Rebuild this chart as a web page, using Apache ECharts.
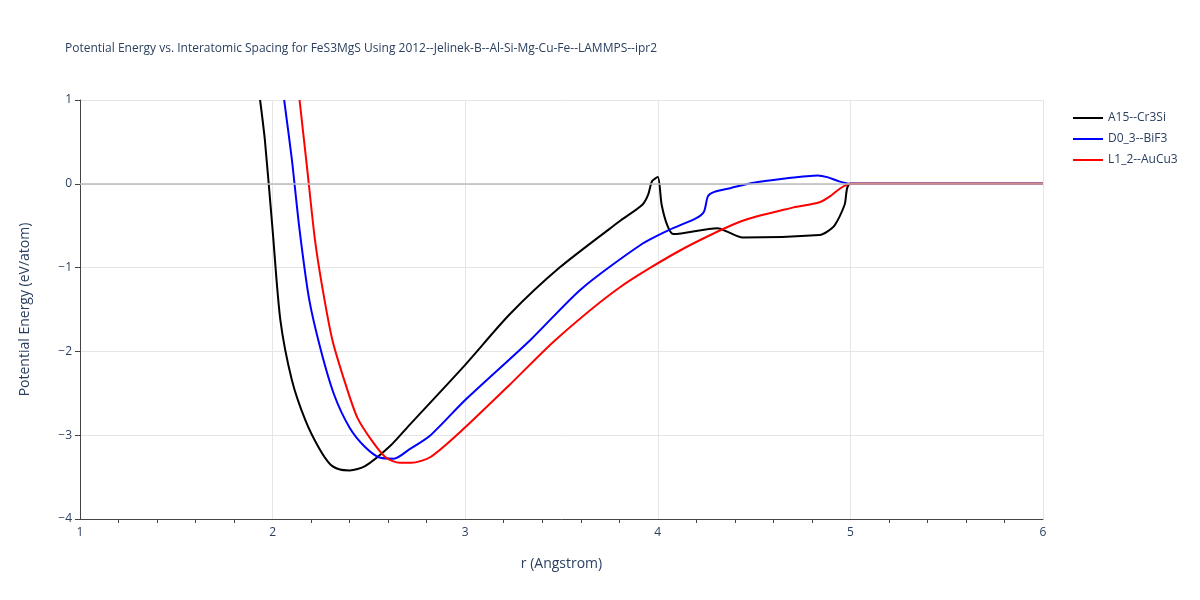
<!DOCTYPE html>
<html>
<head>
<meta charset="utf-8">
<script src="https://cdn.jsdelivr.net/npm/echarts@6/dist/echarts.min.js"></script>
<style>html,body{margin:0;padding:0;background:#fff}#main{width:1200px;height:600px}</style>
</head>
<body>
<div id="main"></div>
<script>
// 各曲线数据 [r, E]
var a15 = [[1.935,1.0],[1.96,0.52],[2.0,-0.55],[2.04,-1.62],[2.10,-2.34],[2.17,-2.82],[2.24,-3.15],[2.30,-3.35],
  [2.35,-3.41],[2.40,-3.42],[2.48,-3.37],[2.61,-3.13],[2.71,-2.88],[3.0,-2.16],[3.23,-1.56],[3.49,-1.0],
  [3.80,-0.45],[3.92,-0.25],[3.95,-0.13],[3.97,0.03],[4.0,0.08],[4.02,-0.25],[4.05,-0.5],[4.08,-0.6],
  [4.31,-0.53],[4.36,-0.57],[4.44,-0.64],[4.84,-0.61],[4.88,-0.57],[4.92,-0.49],[4.97,-0.25],[5.0,0],[6.0,0]];
var d03 = [[2.06,1.0],[2.10,0.29],[2.14,-0.55],[2.19,-1.38],[2.25,-1.98],[2.32,-2.52],[2.40,-2.91],[2.48,-3.14],
  [2.56,-3.27],[2.63,-3.28],[2.71,-3.17],[2.82,-3.0],[3.0,-2.58],[3.34,-1.86],[3.60,-1.26],[3.91,-0.73],
  [4.06,-0.55],[4.20,-0.41],[4.24,-0.33],[4.26,-0.15],[4.29,-0.1],[4.38,-0.05],[4.49,0.01],[4.65,0.06],
  [4.83,0.1],[4.88,0.08],[4.94,0.03],[5.0,0],[6.0,0]];
var l12 = [[2.14,1.0],[2.18,0.17],[2.22,-0.67],[2.26,-1.26],[2.31,-1.86],[2.38,-2.40],[2.44,-2.79],[2.52,-3.08],
  [2.59,-3.27],[2.66,-3.33],[2.72,-3.33],[2.82,-3.26],[2.97,-2.97],[3.23,-2.40],[3.47,-1.86],[3.80,-1.24],
  [4.12,-0.79],[4.43,-0.45],[4.69,-0.29],[4.84,-0.22],[4.90,-0.14],[4.95,-0.05],[5.0,0],[6.0,0]];

var chart = echarts.init(document.getElementById('main'));
var font = 'Open Sans, Noto Sans, sans-serif';
chart.setOption({
  animation: false,
  textStyle: {fontFamily: font},
  title: {text: 'Potential Energy vs. Interatomic Spacing for FeS3MgS Using 2012--Jelinek-B--Al-Si-Mg-Cu-Fe--LAMMPS--ipr2',
    left: 60, top: 38, textStyle: {fontSize: 12, fontWeight: 'normal', color: '#2a3f5f', fontFamily: font}},
  legend: {orient: 'vertical', left: 1068, top: 107, itemWidth: 30, itemHeight: 2, itemGap: 9,
    textStyle: {fontSize: 12, color: '#2a3f5f'}, icon: 'rect'},
  grid: {left: 80, right: 157, top: 100, bottom: 81},
  xAxis: {type: 'value', min: 1, max: 6, interval: 1, name: 'r (Angstrom)', nameLocation: 'middle', nameGap: 38,
    nameTextStyle: {fontSize: 14, color: '#2a3f5f'},
    axisLine: {show: true, onZero: false, lineStyle: {color: '#444'}},
    axisTick: {show: false}, minorTick: {show: true, splitNumber: 5, length: 4, lineStyle: {color: '#444'}},
    axisLabel: {color: '#2a3f5f', fontSize: 12},
    splitLine: {lineStyle: {color: '#e5e5e5'}}},
  yAxis: {type: 'value', min: -4, max: 1, interval: 1, name: 'Potential Energy (eV/atom)', nameLocation: 'middle', nameGap: 48,
    nameTextStyle: {fontSize: 14, color: '#2a3f5f'},
    axisLine: {show: true, onZero: false, lineStyle: {color: '#444'}},
    axisTick: {show: true, length: 5, lineStyle: {color: '#444'}},
    axisLabel: {color: '#2a3f5f', fontSize: 12, formatter: function (v) { return v < 0 ? '\u2212' + (-v) : v; }},
    splitLine: {lineStyle: {color: '#e5e5e5'}}},
  series: [
    {name: 'A15--Cr3Si', type: 'line', data: a15, showSymbol: false, smooth: 0.25, lineStyle: {color: '#000', width: 2}, itemStyle: {color: '#000'},
     markLine: {silent: true, symbol: 'none', label: {show: false}, lineStyle: {color: '#bbb', type: 'solid', width: 1.5}, data: [{yAxis: 0}]}},
    {name: 'D0_3--BiF3', type: 'line', data: d03, showSymbol: false, smooth: 0.25, lineStyle: {color: '#0000ff', width: 2}, itemStyle: {color: '#0000ff'}},
    {name: 'L1_2--AuCu3', type: 'line', data: l12, showSymbol: false, smooth: 0.25, lineStyle: {color: '#ff0000', width: 2}, itemStyle: {color: '#ff0000'}}
  ]
});
</script>
</body>
</html>
